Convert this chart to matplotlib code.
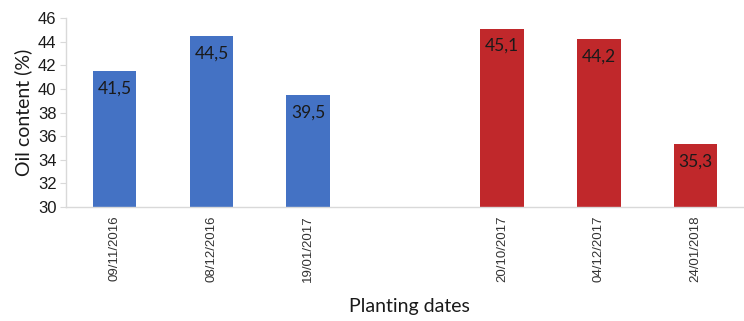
import matplotlib.pyplot as plt

# Planting dates (empty slot separates the two seasons)
dates = ['09/11/2016', '08/12/2016', '19/01/2017', '', '20/10/2017', '04/12/2017', '24/01/2018']
oil = [41.5, 44.5, 39.5, None, 45.1, 44.2, 35.3]
season = ['a', 'a', 'a', None, 'b', 'b', 'b']

colors = {'a': '#4472C4', 'b': '#C0282B'}
label_font = ['Lato', 'DejaVu Sans']
plt.rcParams['font.family'] = ['Liberation Sans', 'DejaVu Sans']

fig = plt.figure(figsize=(7.44, 3.21), dpi=100)
ax = fig.add_axes([0.089, 0.355, 0.911, 0.589])

for i, (v, s) in enumerate(zip(oil, season)):
    if v is None:
        continue
    ax.bar(i, v - 30, bottom=30, width=0.45, color=colors[s], zorder=2)
    ax.text(i, v - 0.8, f'{v:.1f}'.replace('.', ','), ha='center', va='top',
            fontsize=12.5, color='#1a1a1a', family=label_font, zorder=3)

ax.set_xlim(-0.5, len(dates) - 0.5)
ax.set_ylim(30, 46)
ax.set_yticks(range(30, 47, 2))
ax.set_xticks(range(len(dates)))
ax.set_xticklabels(dates, rotation=90, fontsize=9.5, color='#333333')
ax.tick_params(axis='x', length=0, pad=6)
ax.tick_params(axis='y', length=4, color='#d9d9d9', labelsize=12, labelcolor='#1a1a1a', pad=3)

for side in ['top', 'right']:
    ax.spines[side].set_visible(False)
for side in ['left', 'bottom']:
    ax.spines[side].set_color('#d9d9d9')
    ax.spines[side].set_linewidth(1)

ax.set_ylabel('Oil content (%)', fontsize=14, color='#1a1a1a', labelpad=4, family=label_font)
fig.text(0.55, 0.02, 'Planting dates', ha='center', va='bottom', fontsize=14,
         color='#1a1a1a', family=label_font)

fig.savefig('out.png', dpi=100)
